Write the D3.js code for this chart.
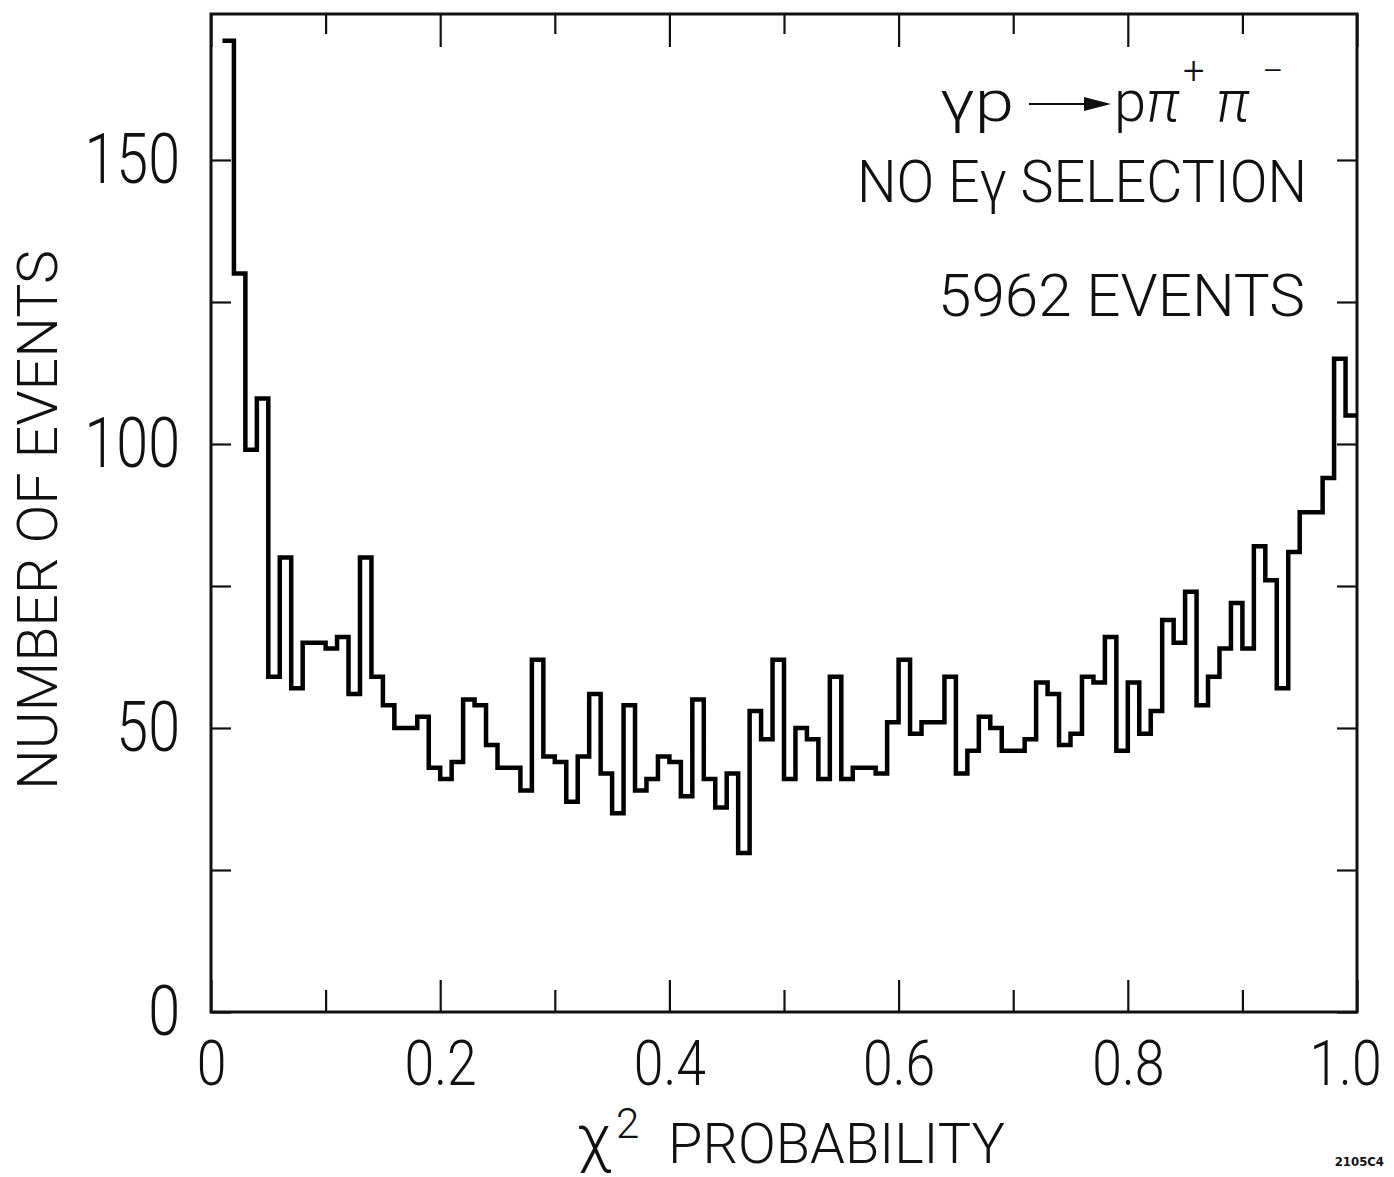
<!DOCTYPE html>
<html>
<head>
<meta charset="utf-8">
<script src="https://cdn.jsdelivr.net/npm/d3@7"></script>
<style>
  body { margin: 0; background: #fff; }
  svg { display: block; }
  text { font-family: Roboto, "Liberation Sans", sans-serif; font-weight: 300; fill: #111; }
</style>
</head>
<body>
<div id="chart"></div>
<script>
// chi^2 probability, bins of 0.01 -- the 0-0.01 bin is not drawn in the original
const binStart = 0.01;
const binWidth = 0.01;
const counts = [171, 130, 99, 108, 59, 80, 57, 65, 65, 64, 66, 56, 80, 59, 54,
  50, 50, 52, 43, 41, 44, 55, 54, 47, 43, 43, 39, 62, 45, 44,
  37, 45, 56, 42, 35, 54, 39, 41, 45, 44, 38, 55, 41, 36, 42,
  28, 53, 48, 62, 41, 50, 48, 41, 59, 41, 43, 43, 42, 51, 62,
  49, 51, 51, 59, 42, 46, 52, 50, 46, 46, 48, 58, 56, 47, 49,
  59, 58, 66, 46, 58, 49, 53, 69, 65, 74, 54, 59, 64, 72, 64,
  82, 76, 57, 81, 88, 88, 94, 115, 105];

const xTicks = [0, 0.1, 0.2, 0.3, 0.4, 0.5, 0.6, 0.7, 0.8, 0.9, 1.0];
const xTickLabels = ["0", "", "0.2", "", "0.4", "", "0.6", "", "0.8", "", "1.0"];
const yTicks = [0, 25, 50, 75, 100, 125, 150];
const yTickLabels = ["0", "", "50", "", "100", "", "150"];
const yMax = 175.7;

const width = 1394,
  height = 1177;
const plotL = 211, plotR = 1357, plotT = 14, plotB = 1012;

const svg = d3
  .select("#chart")
  .append("svg")
  .attr("width", width)
  .attr("height", height);

const x = d3.scaleLinear().domain([0, 1]).range([plotL, plotR]);
const y = d3.scaleLinear().domain([0, yMax]).range([plotB, plotT]);

// squeeze a text to a fraction of its natural width
function condense(sel, k) {
  sel.each(function () {
    const w = this.getComputedTextLength();
    if (w > 0) {
      d3.select(this).attr("textLength", w * k).attr("lengthAdjust", "spacingAndGlyphs");
    }
  });
}

//Axes (ticks point inward)
const gLeft = svg.append("g")
  .attr("transform", `translate(${plotL},0)`)
  .call(d3.axisLeft(y).tickValues(yTicks).tickSize(-20).tickPadding(31)
    .tickFormat((d, i) => yTickLabels[i]));
gLeft.selectAll("text").style("font-size", "70px");
condense(gLeft.selectAll("text"), 0.82);

const gRight = svg.append("g")
  .attr("transform", `translate(${plotR},0)`)
  .call(d3.axisRight(y).tickValues(yTicks).tickSize(-20).tickFormat(""));

const gBottom = svg.append("g")
  .attr("transform", `translate(0,${plotB})`)
  .call(d3.axisBottom(x).tickValues(xTicks).tickSize(-22).tickPadding(28)
    .tickFormat((d, i) => xTickLabels[i]));
gBottom.selectAll(".tick line").attr("y2", (d, i) => (i % 2 === 0 ? -32 : -22));
gBottom.selectAll("text").style("font-size", "63px");
condense(gBottom.selectAll("text"), 0.85);
// the "1" is narrow in the original lettering, so 1.0 sits left of its tick
gBottom.selectAll("text").filter((d) => d === 1).attr("dx", -12);

const gTop = svg.append("g")
  .attr("transform", `translate(0,${plotT})`)
  .call(d3.axisTop(x).tickValues(xTicks).tickSize(-20).tickFormat(""));
gTop.selectAll(".tick line").attr("y2", (d, i) => (i % 2 === 0 ? 33 : 20));

[gLeft, gRight, gBottom, gTop].forEach((g) => {
  g.select(".domain").remove();
  g.attr("color", "#111");
  g.selectAll(".tick line").attr("stroke-width", 2.2);
});

//Frame
svg.append("rect")
  .attr("x", plotL)
  .attr("y", plotT)
  .attr("width", plotR - plotL)
  .attr("height", plotB - plotT)
  .attr("fill", "none")
  .attr("stroke", "#111")
  .attr("stroke-width", 3);

//Histogram (step line)
const pts = counts.map((c, i) => [binStart + i * binWidth, c]);
pts.push([binStart + counts.length * binWidth, counts[counts.length - 1]]);

const line = d3.line()
  .x((d) => x(d[0]))
  .y((d) => y(d[1]))
  .curve(d3.curveStepAfter);

svg.append("path")
  .datum(pts)
  .attr("d", line)
  .attr("fill", "none")
  .attr("stroke", "#000")
  .attr("stroke-width", 4.5)
  .attr("stroke-linejoin", "miter");

//Axis titles
svg.append("text")
  .attr("transform", "translate(57,520) rotate(-90)")
  .attr("text-anchor", "middle")
  .style("font-size", "56px")
  .attr("textLength", 540)
  .attr("lengthAdjust", "spacingAndGlyphs")
  .text("NUMBER OF EVENTS");

svg.append("text").attr("x", 577).attr("y", 1160).style("font-size", "64px").text("χ");
svg.append("text").attr("x", 616).attr("y", 1138).style("font-size", "42px").text("2");
svg.append("text")
  .attr("x", 668).attr("y", 1163)
  .style("font-size", "56px")
  .attr("textLength", 337)
  .attr("lengthAdjust", "spacingAndGlyphs")
  .text("PROBABILITY");

//Annotation
svg.append("text").attr("x", 940).attr("y", 121).style("font-size", "58px")
  .attr("textLength", 74).attr("lengthAdjust", "spacingAndGlyphs").text("γp");
svg.append("line")
  .attr("x1", 1029).attr("x2", 1092).attr("y1", 104).attr("y2", 104)
  .attr("stroke", "#111").attr("stroke-width", 2.2);
svg.append("path")
  .attr("d", "M1084,97 L1111,104 L1084,111 Z")
  .attr("fill", "#111");
svg.append("text").attr("x", 1114).attr("y", 121).style("font-size", "58px").text("p");
svg.append("text").attr("x", 1146).attr("y", 121).style("font-size", "58px")
  .style("font-style", "italic").text("π");
svg.append("text").attr("x", 1183).attr("y", 84).style("font-size", "38px").text("+");
svg.append("text").attr("x", 1216).attr("y", 121).style("font-size", "58px")
  .style("font-style", "italic").text("π");
svg.append("text").attr("x", 1262).attr("y", 84).style("font-size", "38px").text("−");

svg.append("text")
  .attr("x", 857).attr("y", 202)
  .style("font-size", "59px")
  .attr("textLength", 450)
  .attr("lengthAdjust", "spacingAndGlyphs")
  .text("NO Eγ SELECTION");

svg.append("text")
  .attr("x", 938).attr("y", 316)
  .style("font-size", "59px")
  .attr("textLength", 367)
  .attr("lengthAdjust", "spacingAndGlyphs")
  .text("5962 EVENTS");

//Figure number
svg.append("text")
  .attr("x", 1384).attr("y", 1166)
  .attr("text-anchor", "end")
  .style("font-size", "13px")
  .style("font-weight", "700")
  .style("font-family", "'DejaVu Sans Condensed', 'DejaVu Sans', sans-serif")
  .text("2105C4");
</script>
</body>
</html>
